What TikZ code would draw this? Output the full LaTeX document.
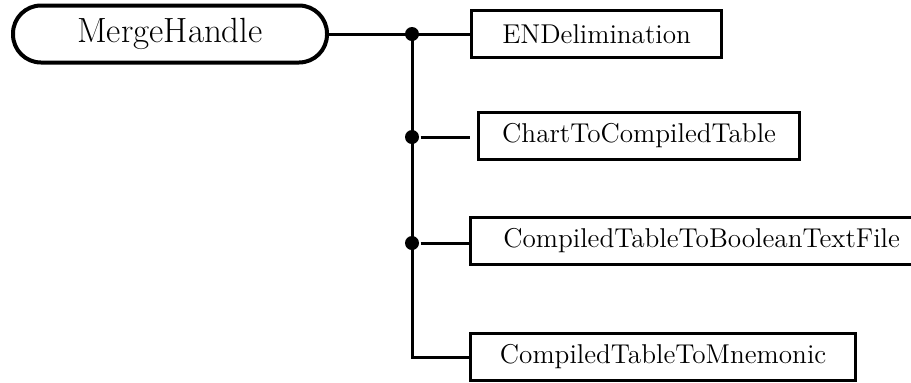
\documentclass[tikz,border=0pt]{standalone}
\usetikzlibrary{positioning}

\begin{document}
\begin{tikzpicture}[x=0.5pt,y=-0.5pt,line width=1.5pt,
root node/.style={draw,line width=2pt,rounded corners=14pt,minimum width=157pt,minimum height=28.5pt,font=\fontsize{17.5}{20}\selectfont},
sub node/.style={draw,line width=1.6pt,anchor=west,minimum height=23.5pt,font=\fontsize{13.6}{16}\selectfont},
dot node/.style={circle,fill,inner sep=0pt,minimum size=7pt}]

\useasboundingbox (0,0) rectangle (911,382);

\node[root node] (merge) at (170,34) {MergeHandle};
\node[sub node,minimum width=125pt] (endel) at (470,34) {ENDelimination};
\node[sub node,minimum width=160.5pt] (chart) at (477,136) {ChartToCompiledTable};
\node[sub node,minimum width=231pt] (bool) at (469,241) {CompiledTableToBooleanTextFile};
\node[sub node,minimum width=192.5pt] (mnem) at (469,357) {CompiledTableToMnemonic};

\node[dot node] (d1) at (412,34) {};
\node[dot node] (d2) at (412,137) {};
\node[dot node] (d3) at (412,243) {};
\coordinate (corner) at (412,357);

\draw (merge) -- (endel);
\draw (d1.center) -- (corner) -- (mnem);
\draw[shorten >=3.5pt] (d2) -- (chart.west |- d2);
\draw (d3) -- (bool.west |- d3);

\end{tikzpicture}
\end{document}
